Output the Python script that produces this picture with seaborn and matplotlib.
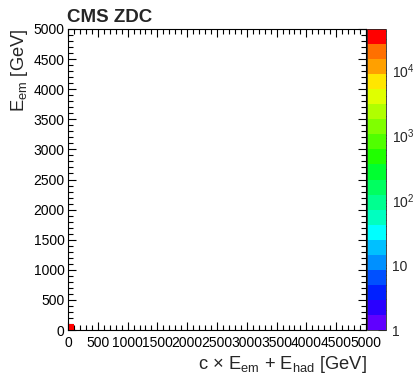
import numpy as np
import pandas as pd
import matplotlib
matplotlib.use("Agg")
import matplotlib.pyplot as plt
from matplotlib.colors import ListedColormap, LogNorm
from matplotlib.ticker import MultipleLocator, LogLocator, FixedFormatter, FixedLocator
import seaborn as sns

# ---- data (non-empty bins of the 2D histogram) ----
x_centers = [50.0]        # c*E_em + E_had bin centre [GeV]
y_centers = [50.0]        # E_em bin centre [GeV]
counts = [43000.0]        # entries in the bin
bin_width = 100
axis_range = (0, 5000)
x_ticks = [0, 500, 1000, 1500, 2000, 2500, 3000, 3500, 4000, 4500, 5000]
y_ticks = [0, 500, 1000, 1500, 2000, 2500, 3000, 3500, 4000, 4500, 5000]
z_ticks = [1, 10, 100, 1000, 10000]
z_labels = ["1", "10", r"$\mathregular{10^{2}}$", r"$\mathregular{10^{3}}$", r"$\mathregular{10^{4}}$"]

# ROOT-like 20-step palette (bottom -> top)
palette = ["#6000ff", "#2a00ff", "#0020ff", "#0050ff", "#0090ff", "#00c0ff",
           "#00ffff", "#00ffc0", "#00ff90", "#00ff60", "#00ff30", "#20ff00",
           "#50ff00", "#80ff00", "#b0ff00", "#e0ff00", "#ffe600", "#ffa000",
           "#ff7000", "#ff3000", "#ff0000"]
palette = palette[:19] + palette[-1:]

sns.set_style("white")
plt.rcParams["font.family"] = ["Liberation Sans", "DejaVu Sans"]
plt.rcParams["mathtext.fontset"] = "custom"
plt.rcParams["mathtext.rm"] = "Liberation Sans"

W, H = 414, 374
fig = plt.figure(figsize=(W / 100, H / 100), dpi=100)
ax = fig.add_axes([68 / W, 1 - 330 / H, 298 / W, 301 / H])
cax = fig.add_axes([367 / W, 1 - 330 / H, 19 / W, 301 / H])

df = pd.DataFrame({"x": x_centers, "y": y_centers, "w": counts})
cmap = ListedColormap(palette)
sns.histplot(data=df, x="x", y="y", weights="w", binwidth=bin_width,
             binrange=(axis_range, axis_range), cmap=cmap, cbar=False, ax=ax)
mesh = ax.collections[0]
mesh.set_norm(LogNorm(vmin=1, vmax=max(counts)))

ax.set_xlim(axis_range)
ax.set_ylim(axis_range)
ax.set_xlabel("")
ax.set_ylabel("")
ax.xaxis.set_major_locator(FixedLocator(x_ticks))
ax.yaxis.set_major_locator(FixedLocator(y_ticks))
ax.xaxis.set_minor_locator(MultipleLocator(100))
ax.yaxis.set_minor_locator(MultipleLocator(100))
ax.tick_params(which="both", direction="in", top=True, right=True,
               bottom=True, left=True, labelsize=10, width=0.8, colors="black")
ax.tick_params(axis="x", which="both", pad=4.5)
ax.tick_params(axis="y", which="both", pad=2.5)
ax.tick_params(which="major", length=6)
ax.tick_params(which="minor", length=3.5)
for s in ax.spines.values():
    s.set_color("black")
    s.set_linewidth(0.8)

cb = fig.colorbar(mesh, cax=cax)
cb.outline.set_linewidth(0.6)
cax.yaxis.set_major_locator(FixedLocator(z_ticks))
cax.yaxis.set_major_formatter(FixedFormatter(z_labels))
cax.yaxis.set_minor_locator(LogLocator(base=10, subs=np.arange(2, 10)))
cax.tick_params(which="both", direction="in", right=True, left=False,
                labelsize=10, pad=4, color="#333333")
cax.tick_params(which="major", length=6)
cax.tick_params(which="minor", length=3)

fig.text(67 / W, 1 - 22 / H, "CMS ZDC", fontsize=13.5, fontweight="bold",
         ha="left", va="baseline")
fig.text(20 / W, 1 - 28 / H, r"$\mathregular{E_{em}}$ [GeV]", fontsize=13.2,
         rotation=90, ha="center", va="top")
fig.text(367 / W, 1 - 369 / H,
         r"c × $\mathregular{E_{em}}$ + $\mathregular{E_{had}}$ [GeV]",
         fontsize=13.2, ha="right", va="baseline")

fig.savefig("out.png", dpi=100)
